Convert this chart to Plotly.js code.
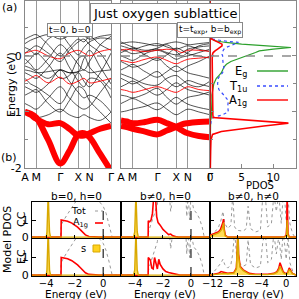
<!DOCTYPE html>
<html><head><meta charset="utf-8">
<script src="https://cdn.plot.ly/plotly-3.0.1.min.js"></script>
<style>html,body{margin:0;padding:0;background:#fff;overflow:hidden}#g{width:299px;height:299px}</style>
</head><body><div id="g"></div>
<script>
// ---------- panel (a): band structures ----------
const kPath = [0,0.065,0.13,0.27,0.41,0.515,0.62,0.685,0.75,0.875,1];
const kTicks = [0,0.13,0.41,0.62,0.75,1];
const kLabels = ['A','M','Γ','X','N','Γ'];

const bandsA_black = [
 [0.22,0.28,0.32,0.38,0.30,0.36,0.40,0.36,0.30,0.35,0.38],
 [0.15,0.10,0.02,0.30,0.38,0.20,0.02,0.15,0.25,0.32,0.30],
 [0.05,0.12,0.18,0.05,-0.10,0.10,0.25,0.30,0.20,0.05,-0.25],
 [-0.05,-0.15,-0.25,-0.05,0.20,0.05,-0.15,-0.25,-0.10,0.20,0.35],
 [-0.18,-0.22,-0.28,-0.40,-0.25,-0.30,-0.28,-0.05,0.10,-0.20,-0.50],
 [-0.30,-0.35,-0.40,-0.20,0.05,-0.20,-0.45,-0.55,-0.40,-0.45,-0.75],
 [-0.40,-0.50,-0.55,-0.70,-0.85,-0.60,-0.30,-0.45,-0.55,-0.30,0.05],
 [-0.55,-0.60,-0.65,-0.50,-0.25,-0.45,-0.65,-0.75,-0.70,-0.80,-1.00],
 [-0.70,-0.65,-0.60,-0.85,-1.00,-0.80,-0.55,-0.60,-0.80,-1.00,-1.20],
 [-0.85,-0.90,-0.95,-0.75,-0.55,-0.75,-0.90,-0.95,-0.90,-0.65,-0.40],
 [-1.00,-1.05,-1.10,-1.05,-0.95,-1.05,-1.10,-1.05,-1.10,-1.15,-1.00],
 [0.30,0.35,0.38,0.20,0.00,0.15,0.30,0.25,0.35,0.20,0.10],
 [-0.25,-0.27,-0.30,-0.28,-0.25,-0.30,-0.28,-0.25,-0.30,-0.27,-0.25],
 [-0.15,-0.05,0.05,-0.15,-0.40,-0.35,-0.05,0.00,-0.20,-0.40,-0.60]
];
const bandsA_red = [
 [-0.45,-0.40,-0.35,-0.48,-0.38,-0.50,-0.45,-0.40,-0.48,-0.45,-0.40],
 [0.05,0.08,0.10,0.00,-0.05,0.05,0.10,0.05,0.00,0.08,0.12]
];
const bandsA_fat = [
 [-1.00,-1.03,-1.10,-1.50,-1.92,-1.70,-1.40,-1.38,-1.45,-1.75,-2.05],
 [-1.00,-1.05,-1.12,-1.22,-1.20,-1.30,-1.42,-1.42,-1.38,-1.30,-1.25]
];
const bandsB_black = [
 [0.22,0.24,0.25,0.22,0.18,0.22,0.25,0.23,0.20,0.22,0.24],
 [0.18,0.15,0.12,0.18,0.22,0.16,0.12,0.15,0.18,0.12,0.08],
 [0.12,0.08,0.04,0.08,0.12,0.06,0.02,0.06,0.12,0.16,0.18],
 [0.06,0.10,0.14,0.02,-0.08,0.02,0.14,0.10,0.04,0.00,-0.04],
 [0.00,-0.04,-0.08,0.04,0.10,0.04,-0.06,-0.02,0.00,0.06,0.12],
 [-0.10,-0.15,-0.20,-0.14,-0.04,-0.18,-0.28,-0.24,-0.18,-0.10,0.00],
 [-0.25,-0.20,-0.15,-0.28,-0.38,-0.28,-0.18,-0.24,-0.30,-0.35,-0.40],
 [-0.40,-0.45,-0.50,-0.40,-0.28,-0.44,-0.55,-0.50,-0.44,-0.50,-0.55],
 [-0.55,-0.50,-0.45,-0.58,-0.70,-0.60,-0.48,-0.54,-0.60,-0.65,-0.70],
 [-0.70,-0.72,-0.75,-0.68,-0.58,-0.74,-0.86,-0.80,-0.74,-0.70,-0.64],
 [-0.85,-0.80,-0.76,-0.86,-0.96,-0.86,-0.74,-0.80,-0.86,-0.92,-0.96],
 [-1.00,-0.98,-0.95,-0.90,-0.84,-0.95,-1.05,-1.00,-0.95,-1.00,-1.05],
 [0.25,0.20,0.16,0.10,0.14,0.20,0.08,0.00,0.06,0.18,0.22],
 [-0.32,-0.36,-0.40,-0.50,-0.52,-0.40,-0.35,-0.42,-0.50,-0.55,-0.45]
];
const bandsB_red = [
 [0.10,0.12,0.10,0.08,0.10,0.12,0.10,0.06,0.10,0.10,0.08],
 [-0.60,-0.62,-0.65,-0.60,-0.55,-0.60,-0.65,-0.60,-0.55,-0.60,-0.62],
 [-0.08,-0.10,-0.12,-0.06,-0.02,-0.08,-0.14,-0.10,-0.06,-0.04,-0.02]
];
const bandsB_fat = [
 [-1.15,-1.17,-1.20,-1.18,-1.14,-1.20,-1.27,-1.33,-1.38,-1.43,-1.45],
 [-1.25,-1.27,-1.30,-1.35,-1.40,-1.33,-1.27,-1.22,-1.20,-1.18,-1.17]
];

// ---------- panel (a): PDOS ----------
const pdosE  = [0.4,0.35,0.3,0.27,0.24,0.21,0.18,0.15,0.12,0.09,0.06,0.03,0,-0.05,-0.1,-0.15,-0.2,-0.25,-0.3,-0.35,-0.4,-0.5,-0.6,-0.7,-0.8,-0.9,-1.0,-1.05,-1.1,-1.15,-1.2,-1.25,-1.3,-1.35,-1.4,-1.5,-1.7,-2.0];
const pdosEg = [0,0,0.3,0.8,2.5,5,9,12.8,10,7.8,7.2,6.5,5.5,4.3,3.3,2.6,2.2,2.0,1.8,1.4,1.0,0.6,0.4,0.3,0.3,0.3,0.3,0.3,0.2,0.1,0.1,0.05,0,0,0,0,0,0];
const pdosT1u= [0,0,0.5,2,4.5,3.8,3,2.5,2.2,2,1.9,1.9,2,2,2,2.1,2.2,2.1,2.0,1.6,1.3,1.2,1.4,2.2,2.9,2.8,2.9,2.0,0.5,0.2,0.1,0,0,0,0,0,0,0];
const pdosA1g= [0,0,0.3,0.9,1.5,1.9,1.9,1.6,1.2,0.8,0.5,0.4,0.35,0.35,0.35,0.35,0.35,0.35,0.35,0.35,0.35,0.35,0.35,0.35,0.35,0.35,0.4,0.45,0.5,6,12.4,8.5,5,1.8,0.4,0.15,0.1,0.05];

// ---------- panel (b): model PDOS ----------
const c1E_a1g = [-5,-2.96,-2.95,-2.7,-2.5,-2.2,-2.0,-1.8,-1.6,-1.4,-1.25,-1.0,-0.7,-0.3,1.25];
const c1_a1g  = [0,0,1.0,0.97,0.93,0.82,0.72,0.58,0.42,0.25,0.13,0.04,0.01,0,0];
const c1E_s   = [-5,-4.0,-3.95,-3.9,-3.86,-3.82,-3.77,-3.7,1.25];
const c1_s    = [0,0,0.3,1.5,2.6,1.5,0.3,0,0];
const c1E_tot = [-5,-3.0,-2.95,-2.8,-2.5,-2.2,-1.9,-1.5,-1.0,-0.5,-0.2,0,0.2,0.4,0.55,0.63,1.25];
const c1_tot  = [0,0,0.7,0.95,1.35,1.75,2.2,2.6,2.7,2.3,2.0,1.8,1.4,0.8,0.3,0,0];

const c2E_a1gCC = [-5,-3.06,-3.05,-2.95,-2.85,-2.75,-2.65,-2.55,-2.45,-2.35,-2.2,-2.0,-1.8,-1.6,-1.45,-1.3,-1.1,-0.9,1.36];
const c2_a1gCC  = [0,0,0.95,0.9,1.0,1.4,2.5,2.6,1.2,0.85,0.7,0.45,0.3,0.15,0.18,0.08,0.03,0,0];
const c2E_a1gEC = [-5,-3.06,-3.05,-2.9,-2.8,-2.7,-2.6,-2.5,-2.4,-2.3,-2.2,-2.0,-1.8,-1.6,-1.4,-1.2,-1.0,-0.8,1.36];
const c2_a1gEC  = [0,0,1.0,0.85,0.4,0.35,1.0,0.6,0.35,0.9,0.6,0.35,0.2,0.15,0.12,0.1,0.05,0,0];
const c2E_s   = [-5,-4.1,-4.02,-3.97,-3.93,-3.89,-3.84,-3.76,1.36];
const c2_s    = [0,0,0.3,1.5,2.6,1.5,0.3,0,0];
const c2E_tot = [-5,-3.1,-3.0,-2.8,-2.6,-2.4,-2.3,-2.2,-2.0,-1.8,-1.6,-1.45,-1.35,-1.2,-0.8,-0.4,-0.3,-0.2,-0.1,0.0,0.2,0.4,0.6,0.8,0.95,1.36];
const c2_tot  = [0,0,0.4,0.9,1.4,1.9,3,2.4,2.6,2.8,3,1.5,2.8,3,3,3,1.2,2.6,1.0,2.4,1.6,1.4,1.1,0.6,0,0];

const c3E_CC  = [-12.4,-12.0,-11.5,-11.0,-10.7,-10.5,-10.3,-10.2,-10.1,-9.9,-9.5,-1.0,-0.3,0.0,0.1,0.15,0.2,0.3,0.5,1.6];
const c3_a1gCC= [0.1,0.15,0.22,0.32,0.45,0.6,0.85,1.05,0.5,0.1,0,0,0.02,0.1,0.6,2.6,1.0,0.2,0,0];
const c3_sCC  = [0.05,0.1,0.15,0.25,0.35,0.45,0.65,0.85,0.4,0.05,0,0,0,0.05,0.3,1.0,0.4,0.1,0,0];
const c3E_EC  = [-12.4,-11.5,-11.0,-10.6,-10.2,-9.5,-8.5,-8.1,-7.95,-7.85,-7.75,-7.5,-7.0,-6.5,-6.0,-5.0,-3.0,-2.0,-1.5,-1.2,-1.0,-0.8,-0.5,-0.2,0.1,0.3,0.5,0.7,1.0,1.6];
const c3_a1gEC= [0,0.05,0.1,0.2,0.15,0.1,0.15,0.4,1.5,2.6,1.2,0.5,0.3,0.2,0.1,0.05,0.05,0.1,0.2,0.4,0.7,0.5,0.2,0.1,0.1,0.2,0.4,0.3,0.1,0];
const c3_sEC  = [0,0.03,0.05,0.1,0.1,0.08,0.12,0.35,1.4,2.6,1.1,0.45,0.25,0.15,0.05,0.03,0.03,0.08,0.15,0.3,0.5,0.35,0.15,0.08,0.08,0.15,0.3,0.25,0.08,0];
const c3E_tot = [-12.4,-12.0,-11.5,-11.0,-10.6,-10.3,-10.0,-9.5,-9.0,-8.7,-8.4,-8.0,-7.0,-6.5,-6.2,-5.8,-5.0,-4.2,-3.8,-3.4,-3.0,-2.4,-2.0,-1.6,-1.2,-0.8,-0.5,-0.2,0.0,0.3,0.6,0.9,1.2,1.6];
const c3_totCC= [0.1,0.2,0.35,0.6,1.0,1.5,0.8,0.5,0.7,2.5,0.6,0.4,0.35,0.5,1.8,0.5,0.3,0.4,2.4,2.4,0.6,0.8,2.5,1.5,2.5,0.8,2.3,2.0,1.0,2.4,0.8,0.4,0.1,0];
const c3_totEC= [0,0.1,0.3,0.5,0.7,0.9,0.6,0.4,0.6,1.2,2.5,0.8,0.5,0.6,2.0,0.6,0.4,0.5,1.9,2.4,0.7,0.9,2.4,1.2,2.2,0.9,2.4,1.6,0.9,2.2,0.7,0.4,0.1,0];

// ---------- build ----------
const W = 299;
const px = v => v / W;
const py = v => 1 - v / W;
const RED = '#ff0000', GOLD = '#ffd21f', GOLDL = '#d9a800', TOT = '#999999';
const traces = [];
function band(y, xa, ya, color, width) {
  traces.push({x: kPath, y: y, xaxis: xa, yaxis: ya, mode: 'lines', hoverinfo: 'skip',
    line: {color: color, width: width, shape: 'spline', smoothing: 1}});
}
bandsA_black.forEach(b => band(b, 'x', 'y', 'rgba(0,0,0,0.85)', 0.8));
bandsA_red.forEach(b => band(b, 'x', 'y', RED, 0.9));
bandsA_fat.forEach(b => band(b, 'x', 'y', RED, 6));
bandsB_black.forEach(b => band(b, 'x2', 'y2', 'rgba(0,0,0,0.85)', 0.8));
bandsB_red.forEach(b => band(b, 'x2', 'y2', RED, 0.9));
bandsB_fat.forEach(b => band(b, 'x2', 'y2', RED, 6));

traces.push({x: pdosEg, y: pdosE, xaxis: 'x3', yaxis: 'y3', mode: 'lines', line: {color: '#2ca02c', width: 1.2}});
traces.push({x: pdosT1u, y: pdosE, xaxis: 'x3', yaxis: 'y3', mode: 'lines', line: {color: '#3a4dff', width: 1.2, dash: 'dot'}});
traces.push({x: pdosA1g, y: pdosE, xaxis: 'x3', yaxis: 'y3', mode: 'lines', line: {color: RED, width: 1.6}});

function pdosSet(n, eT, tot, eA, a1g, eS, s) {
  const xa = 'x' + n, ya = 'y' + n;
  traces.push({x: eT, y: tot, xaxis: xa, yaxis: ya, mode: 'lines', line: {color: TOT, width: 1, dash: 'dot'}});
  traces.push({x: eA, y: a1g, xaxis: xa, yaxis: ya, mode: 'lines', line: {color: RED, width: 1.6}});
  traces.push({x: eS, y: s, xaxis: xa, yaxis: ya, mode: 'lines', fill: 'tozeroy',
    fillcolor: 'rgba(255,210,31,0.75)', line: {color: GOLDL, width: 1.4}});
}
pdosSet(4, c1E_tot, c1_tot, c1E_a1g, c1_a1g, c1E_s, c1_s);
pdosSet(5, c2E_tot, c2_tot, c2E_a1gCC, c2_a1gCC, c2E_s, c2_s);
pdosSet(6, c3E_tot, c3_totCC, c3E_CC, c3_a1gCC, c3E_CC, c3_sCC);
pdosSet(7, c1E_tot, c1_tot, c1E_a1g, c1_a1g, c1E_s, c1_s);
pdosSet(8, c2E_tot, c2_tot, c2E_a1gEC, c2_a1gEC, c2E_s, c2_s);
pdosSet(9, c3E_tot, c3_totEC, c3E_EC, c3_a1gEC, c3E_EC, c3_sEC);

const F = 'DejaVu Sans';
const bandX = (d, ya) => ({domain: d, range: [0, 1], anchor: ya, tickvals: kTicks, ticktext: kLabels, showgrid: true,
  gridcolor: '#9a9a9a', gridwidth: 1, showline: true, mirror: true, linecolor: '#888', ticks: '',
  zeroline: false, tickfont: {size: 11}, automargin: false, ticklabelstandoff: -1});
const eMinor = {tickvals: [-1.5, -0.5, 0.5], ticks: 'inside', ticklen: 3, tickcolor: '#888', showgrid: false};
const aDom = [py(168), py(1)];
const layout = {
  width: 299, height: 299, margin: {l: 0, r: 0, t: 0, b: 0, pad: 0, autoexpand: false}, showlegend: false,
  paper_bgcolor: '#fff', plot_bgcolor: 'rgba(0,0,0,0)', font: {family: F, size: 10, color: '#000'},
  xaxis: bandX([px(25), px(111)], 'y'),
  xaxis2: bandX([px(121), px(210)], 'y2'),
  yaxis: {domain: aDom, anchor: 'x', range: [-2, 0.98], tickvals: [-2, -1, 0], ticktext: ['-2', '-1', '0'],
    ticks: 'inside', ticklen: 4, tickcolor: '#888', minor: eMinor, showline: true, mirror: true, linecolor: '#888',
    showgrid: false, zeroline: false, tickfont: {size: 11}, automargin: false},
  yaxis2: {domain: aDom, range: [-2, 0.98], anchor: 'x2', showticklabels: false, ticks: '',
    showline: true, mirror: true, linecolor: '#888', showgrid: false, zeroline: false, automargin: false},
  xaxis3: {domain: [px(210), px(296)], range: [0, 13.6], anchor: 'y3', tickvals: [0, 5, 10],
    ticks: 'inside', ticklen: 4, tickcolor: '#888', showline: true, mirror: true, linecolor: '#888',
    showgrid: false, zeroline: false, tickfont: {size: 10.5}, automargin: false, ticklabelstandoff: -1},
  yaxis3: {domain: aDom, range: [-2, 0.98], anchor: 'x3', tickvals: [-2, -1, 0], showticklabels: false,
    ticks: 'inside', ticklen: 4, tickcolor: '#888', minor: eMinor, showline: true, mirror: 'ticks', linecolor: '#888',
    showgrid: false, zeroline: false, automargin: false},
  shapes: [], annotations: []
};
const cols = [[px(32), px(121), [-5, 1.25], [-4, -2, 0]],
              [px(121), px(210), [-5, 1.36], [-4, -2, 0]],
              [px(210), px(296), [-12.4, 1.6], [-12, -8, -4, 0]]];
const rows = [[py(238), py(202)], [py(276), py(239)]];
for (let r = 0; r < 2; r++) for (let c = 0; c < 3; c++) {
  const n = 4 + r * 3 + c;
  layout['xaxis' + n] = {domain: [cols[c][0], cols[c][1]], range: cols[c][2], anchor: 'y' + n,
    tickvals: cols[c][3], showticklabels: r === 1, ticks: 'inside', ticklen: 3, tickcolor: '#000',
    showline: true, mirror: true, linecolor: '#000', showgrid: false, zeroline: false,
    tickfont: {size: 10}, automargin: false, ticklabelstandoff: -2};
  layout['yaxis' + n] = {domain: rows[r], range: [-0.05, 2.05], anchor: 'x' + n, tickvals: [0, 1],
    showticklabels: c === 0, ticks: 'inside', ticklen: 4, tickcolor: '#000', showline: true,
    mirror: c === 2 ? 'ticks' : true, linecolor: '#000', showgrid: false, zeroline: false,
    tickfont: {size: 11}, automargin: false};
  if (c < 2) layout.shapes.push({type: 'line', xref: 'x' + n, yref: 'y' + n + ' domain', x0: 0, x1: 0,
    y0: 0, y1: 1, line: {color: '#222', width: 1.2, dash: 'dash'}});
}
['x', 'x2', 'x3'].forEach((xa, i) => layout.shapes.push({type: 'line', xref: xa + ' domain',
  yref: ['y', 'y2', 'y3'][i], x0: 0, x1: 1, y0: 0, y1: 0, line: {color: '#8a8a8a', width: 1.5, dash: 'dash'}}));
layout.shapes.push({type: 'line', xref: 'x3', yref: 'y3 domain', x0: 0, x1: 0, y0: 0, y1: 1,
  line: {color: '#d00000', width: 1.5}});
// PDOS legend samples
const leg = [[71, '#2ca02c', 'solid', 'E<sub>g</sub>'], [86, '#3a4dff', 'dot', 'T<sub>1u</sub>'], [100, RED, 'solid', 'A<sub>1g</sub>']];
leg.forEach(l => {
  layout.shapes.push({type: 'line', xref: 'paper', yref: 'paper', x0: px(257), x1: px(288), y0: py(l[0]), y1: py(l[0]),
    line: {color: l[1], width: 1.4, dash: l[2]}});
  layout.annotations.push({xref: 'paper', yref: 'paper', x: px(249), y: py(l[0]), xanchor: 'right', yanchor: 'middle',
    text: l[3], showarrow: false, font: {size: 11.5}});
});
// panel b legend samples
layout.shapes.push({type: 'line', xref: 'paper', yref: 'paper', x0: px(95), x1: px(103), y0: py(211), y1: py(211), line: {color: TOT, width: 1, dash: 'dot'}});
layout.shapes.push({type: 'line', xref: 'paper', yref: 'paper', x0: px(95), x1: px(103), y0: py(223), y1: py(223), line: {color: RED, width: 1.6}});
layout.shapes.push({type: 'rect', xref: 'paper', yref: 'paper', x0: px(93), x1: px(100), y0: py(252), y1: py(245), fillcolor: GOLD, line: {color: GOLDL, width: 1}});
const ann = (x, y, text, size, extra) => layout.annotations.push(Object.assign({xref: 'paper', yref: 'paper',
  x: px(x), y: py(y), text: text, showarrow: false, font: {size: size}, xanchor: 'center', yanchor: 'middle'}, extra || {}));
ann(88, 210, 'Tot', 9.5, {xanchor: 'right'});
ann(90, 223, 'A<sub>1g</sub>', 9.5, {xanchor: 'right'});
ann(88, 248, 's', 10, {xanchor: 'right'});
ann(9, 8, '(a)', 11);
ann(9, 157, '(b)', 11);
ann(165, 14, 'Just oxygen sublattice', 13, {bordercolor: '#888', borderwidth: 1, bgcolor: '#fff', borderpad: 2});
ann(70, 30, 't=0, b=0', 9, {bordercolor: '#888', borderwidth: 1, bgcolor: '#fff', borderpad: 1});
ann(210, 30, 't=t<sub>exp</sub>, b=b<sub>exp</sub>', 9, {bordercolor: '#888', borderwidth: 1, bgcolor: '#fff', borderpad: 1});
ann(11, 85, 'Energy (eV)', 11, {textangle: -90});
ann(260, 185.5, 'PDOS', 10);
ann(76, 196, 'b=0, h=0', 10.5);
ann(165, 196, 'b≠0, h=0', 10.5);
ann(253, 196, 'b≠0, h≠0', 10.5);
ann(21, 219, 'CC', 11, {textangle: -90});
ann(21, 257, 'EC', 11, {textangle: -90});
ann(7, 240, 'Model PDOS', 11, {textangle: -90});
ann(76, 294, 'Energy (eV)', 10.5);
ann(165, 294, 'Energy (eV)', 10.5);
ann(253, 294, 'Energy (eV)', 10.5);

Plotly.newPlot('g', traces, layout, {staticPlot: true, displayModeBar: false});
</script></body></html>
